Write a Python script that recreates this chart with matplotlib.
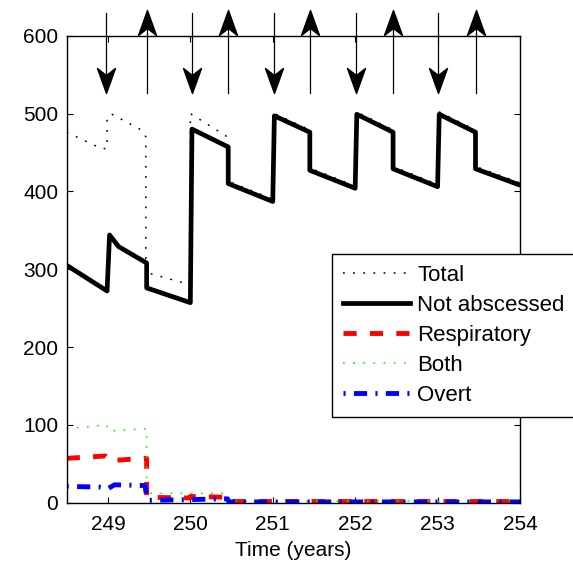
import numpy as np
import matplotlib.pyplot as plt
from matplotlib.path import Path

plt.rcParams['font.family'] = ['Liberation Sans', 'DejaVu Sans']
plt.rcParams['lines.scale_dashes'] = False

# not abscessed (solid black)
na_t = [248.5, 248.99, 249.02, 249.13, 249.47, 249.47, 250.0, 250.02, 250.46, 250.46,
        251.0, 251.02, 251.45, 251.45, 252.0, 252.02, 252.46, 252.46, 253.0, 253.02,
        253.46, 253.46, 254.0]
na = [305, 272, 344, 329, 308, 276, 257, 480, 457, 410,
      387, 497, 476, 427, 404, 499, 476, 429, 406, 499,
      476, 429, 408]

# total (black dotted)
tot_t = [248.5, 248.92, 248.99, 248.99, 249.05, 249.42, 249.46, 249.46, 250.0, 250.0,
         250.45, 250.46, 251.0, 251.02, 251.45, 251.45, 252.0, 252.02, 252.46, 252.46,
         253.0, 253.02, 253.46, 253.46, 254.0]
tot = [476, 455, 455, 496, 499, 478, 470, 296, 280, 500,
       470, 413, 390, 500, 479, 430, 407, 502, 479, 432,
       409, 502, 479, 432, 411]

# respiratory (red dashed)
resp_t = [248.5, 248.97, 249.03, 249.44, 249.47, 249.47, 250.0, 250.0, 250.45, 250.47, 254.0]
resp = [57, 60, 54, 57, 57, 7, 6, 8, 7, 1.5, 1.5]

# both (green dotted)
both_t = [248.5, 248.98, 249.02, 249.45, 249.47, 249.47, 250.45, 250.47, 254.0]
both = [95, 100, 92, 95, 95, 12, 12, 2, 2]

# overt (blue dash-dot)
ov_t = [248.5, 248.9, 249.0, 249.08, 249.45, 249.47, 249.5, 250.0, 250.45, 250.47, 254.0]
ov = [21, 20, 18, 23, 22, 8, 3, 4, 5, 1, 1]

# arrow events
down_t = [248.98, 250.02, 251.01, 252.01, 253.0]
up_t = [249.47, 250.46, 251.45, 252.46, 253.47]

fig = plt.figure(figsize=(5.73, 5.64), dpi=100)
ax = fig.add_axes([0.1164, 0.1087, 0.7911, 0.828])

ax.plot(tot_t, tot, color='k', lw=1.1, ls=(0, (1.3, 6)), label='Total')
ax.plot(na_t, na, color='k', lw=3.4, ls='-', label='Not abscessed')
ax.plot(resp_t, resp, color='red', lw=3.5, ls=(0, (9.5, 9.5)), label='Respiratory')
ax.plot(both_t, both, color='#00ff00', lw=1.1, ls=(0, (1.3, 6)), label='Both')
ax.plot(ov_t, ov, color='blue', lw=3.5, ls=(0, (1.5, 6, 9.5, 6)), label='Overt')

# concave arrow heads, tip at origin
down_head = Path([(0, 0), (-0.36, 1), (0, 0.72), (0.36, 1), (0, 0)],
                 [Path.MOVETO, Path.LINETO, Path.LINETO, Path.LINETO, Path.CLOSEPOLY])
up_head = Path([(0, 0), (-0.36, -1), (0, -0.72), (0.36, -1), (0, 0)],
               [Path.MOVETO, Path.LINETO, Path.LINETO, Path.LINETO, Path.CLOSEPOLY])

for t in down_t:
    ax.plot([t, t], [629, 530], color='k', lw=0.9, clip_on=False)
    ax.plot([t], [526], marker=down_head, ms=36, color='k', clip_on=False)
for t in up_t:
    ax.plot([t, t], [527, 628], color='k', lw=0.9, clip_on=False)
    ax.plot([t], [633], marker=up_head, ms=36, color='k', clip_on=False)

ax.set_xlim(248.5, 254)
ax.set_ylim(0, 600)
ax.set_xticks([249, 250, 251, 252, 253, 254])
ax.set_yticks(np.arange(0, 700, 100))
ax.tick_params(direction='in', top=True, right=True, length=4, labelsize=15)
ax.tick_params(axis='x', pad=9)
ax.tick_params(axis='y', pad=6)
for s in ax.spines.values():
    s.set_linewidth(1)
ax.set_xlabel('Time (years)', fontsize=15, labelpad=5)

leg = ax.legend(loc='upper left', bbox_to_anchor=(0.585, 0.5326), fontsize=16,
                frameon=True, fancybox=False, edgecolor='k', framealpha=1,
                handlelength=3.0, handletextpad=0.35, labelspacing=0.4,
                borderpad=0.5, borderaxespad=0)
leg.get_frame().set_linewidth(1)

fig.savefig('out.png', dpi=100)
